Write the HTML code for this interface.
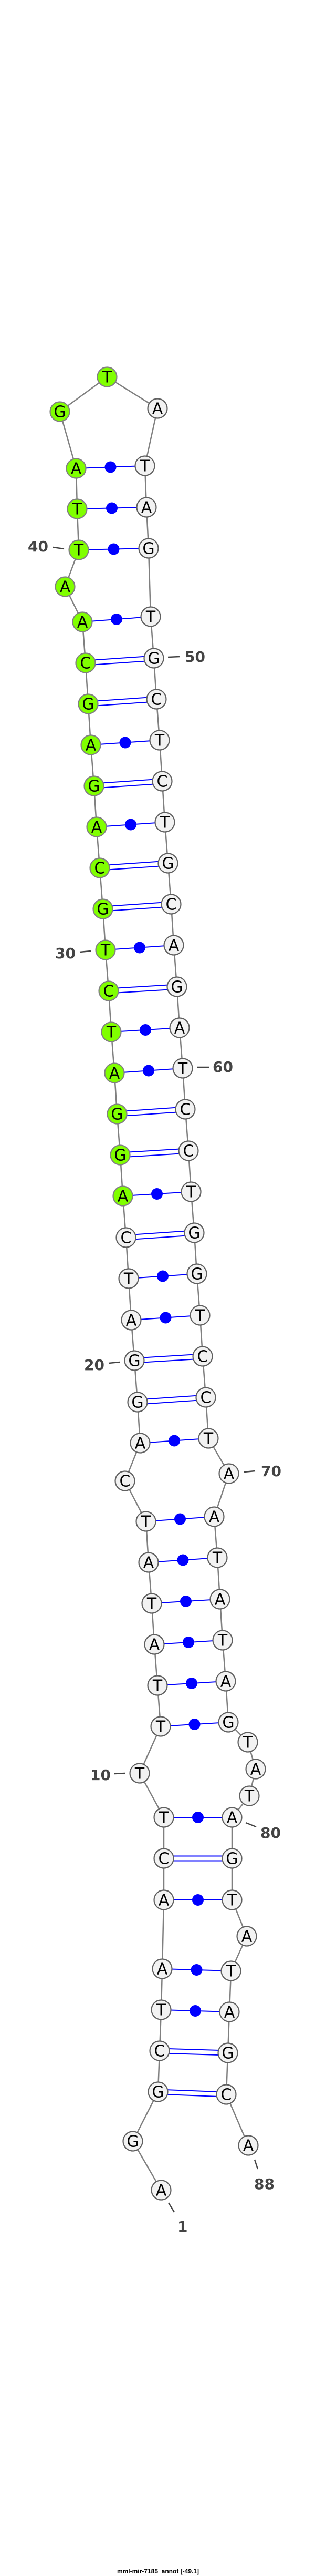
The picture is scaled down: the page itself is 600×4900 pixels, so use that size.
<!DOCTYPE html>
<html><head><meta charset="utf-8"><style>
html,body{margin:0;padding:0;background:#fff;}
svg{display:block;}
.n{font-family:"DejaVu Sans","Liberation Sans",sans-serif;font-size:30px;text-anchor:middle;dominant-baseline:central;fill:#000;}
.l{font-family:"DejaVu Sans","Liberation Sans",sans-serif;font-size:28px;font-weight:bold;fill:#444;}
.t{stroke:#444;stroke-width:2.5;}
.bp{stroke:#00f;stroke-width:2;}
</style></head><body>
<svg width="600" height="4900" viewBox="0 0 600 4900" xmlns="http://www.w3.org/2000/svg">
<polyline fill="none" stroke="#808080" stroke-width="2.5" points="307,4166 253,4073 301,3979 304,3901 307,3823 309,3745 312,3614 312,3535 312,3457 266,3373 306,3284 300,3206 294,3128 289,3050 283,2972 278,2894 238,2817 267,2745 262,2667 256,2588 250,2511 245,2432 240,2354 234,2275 229,2197 223,2119 218,2041 212,1963 207,1885 201,1807 196,1729 190,1651 184,1573 179,1495 173,1417 168,1339 163,1261 157,1183 124,1116 150,1046 147,968 145,891 114,783 204,717 300,777 276,886 279,965 283,1043 287,1173 293,1252 298,1330 304,1408 309,1486 314,1564 320,1642 326,1720 331,1798 337,1877 342,1955 348,2032 353,2110 359,2189 364,2267 370,2345 375,2423 381,2502 386,2580 392,2658 397,2736 436,2803 408,2885 414,2963 419,3042 424,3120 430,3198 435,3276 472,3314 487,3365 475,3416 442,3457 442,3535 442,3614 470,3683 440,3749 437,3827 434,3905 431,3984 473,4081"/>
<g id="pairs"></g>
<g id="nodes"></g>
<g>
<text class="l" x="53" y="1049">40</text><line class="t" x1="101" y1="1041" x2="122" y2="1044"/>
<text class="l" x="352" y="1259">50</text><line class="t" x1="320" y1="1250" x2="342" y2="1249"/>
<text class="l" x="105" y="1823">30</text><line class="t" x1="152" y1="1811" x2="173" y2="1809"/>
<text class="l" x="405" y="2039">60</text><line class="t" x1="376" y1="2030" x2="398" y2="2030"/>
<text class="l" x="160" y="2606">20</text><line class="t" x1="207" y1="2593" x2="228" y2="2591"/>
<text class="l" x="497" y="2808">70</text><line class="t" x1="465" y1="2800" x2="486" y2="2798"/>
<text class="l" x="172" y="3386">10</text><line class="t" x1="218" y1="3374" x2="238" y2="3373"/>
<text class="l" x="496" y="3496">80</text><line class="t" x1="468" y1="3467" x2="488" y2="3475"/>
<text class="l" x="484" y="4164">88</text><line class="t" x1="485" y1="4108" x2="491" y2="4126"/>
<text class="l" x="338" y="4245">1</text><line class="t" x1="321" y1="4190" x2="332" y2="4208"/>
</g>
<text x="301" y="4895" text-anchor="middle" font-family="Liberation Sans, sans-serif" font-size="12" font-weight="bold" fill="#000">mml-mir-7185_annot [-49.1]</text>
</svg>
<script>
(function(){
var NS="http://www.w3.org/2000/svg";
var P=[[307,4166],[253,4073],[301,3979],[304,3901],[307,3823],[309,3745],[312,3614],[312,3535],[312,3457],[266,3373],[306,3284],[300,3206],[294,3128],[289,3050],[283,2972],[278,2894],[238,2817],[267,2745],[262,2667],[256,2588],[250,2511],[245,2432],[240,2354],[234,2275],[229,2197],[223,2119],[218,2041],[212,1963],[207,1885],[201,1807],[196,1729],[190,1651],[184,1573],[179,1495],[173,1417],[168,1339],[163,1261],[157,1183],[124,1116],[150,1046],[147,968],[145,891],[114,783],[204,717],[300,777],[276,886],[279,965],[283,1043],[287,1173],[293,1252],[298,1330],[304,1408],[309,1486],[314,1564],[320,1642],[326,1720],[331,1798],[337,1877],[342,1955],[348,2032],[353,2110],[359,2189],[364,2267],[370,2345],[375,2423],[381,2502],[386,2580],[392,2658],[397,2736],[436,2803],[408,2885],[414,2963],[419,3042],[424,3120],[430,3198],[435,3276],[472,3314],[487,3365],[475,3416],[442,3457],[442,3535],[442,3614],[470,3683],[440,3749],[437,3827],[434,3905],[431,3984],[473,4081]];
var S="AGGCTAACTTTTATATCAGGATCAGGATCTGCAGAGCAATTAGTATAGTGCTCTGCAGATCCTGGTCCTAATATAGTATAGTATAGCA";
var pairs=[[3,87,2],[4,86,2],[5,85,1],[6,84,1],[7,82,1],[8,81,2],[9,80,1],[11,76,1],[12,75,1],[13,74,1],[14,73,1],[15,72,1],[16,71,1],[18,69,1],[19,68,2],[20,67,2],[21,66,1],[22,65,1],[23,64,2],[24,63,1],[25,62,2],[26,61,2],[27,60,1],[28,59,1],[29,58,2],[30,57,1],[31,56,2],[32,55,2],[33,54,1],[34,53,2],[35,52,1],[36,51,2],[37,50,2],[38,49,1],[40,48,1],[41,47,1],[42,46,1]];
function el(t,a,p){var e=document.createElementNS(NS,t);for(var k in a)e.setAttribute(k,a[k]);p.appendChild(e);return e;}
var gp=document.getElementById("pairs"),gn=document.getElementById("nodes");
pairs.forEach(function(q){var a=P[q[0]-1],b=P[q[1]-1];
 if(q[2]==2){el("line",{x1:a[0],y1:a[1]-4.5,x2:b[0],y2:b[1]-4.5,"class":"bp"},gp);el("line",{x1:a[0],y1:a[1]+4.5,x2:b[0],y2:b[1]+4.5,"class":"bp"},gp);}
 else{el("line",{x1:a[0],y1:a[1],x2:b[0],y2:b[1],"class":"bp"},gp);el("circle",{cx:(a[0]+b[0])/2,cy:(a[1]+b[1])/2,r:11,fill:"#00f"},gp);}
});
for(var i=0;i<P.length;i++){
 var g=i>=23&&i<=43;
 el("circle",{cx:P[i][0],cy:P[i][1],r:18.5,fill:g?"#80ff00":"#f2f2f2",stroke:g?"#808080":"#606060","stroke-width":"2.2"},gn);
 var t=el("text",{x:P[i][0],y:P[i][1]+1,"class":"n"},gn);
 t.textContent=S[i];
}
})();
</script>
</body></html>
